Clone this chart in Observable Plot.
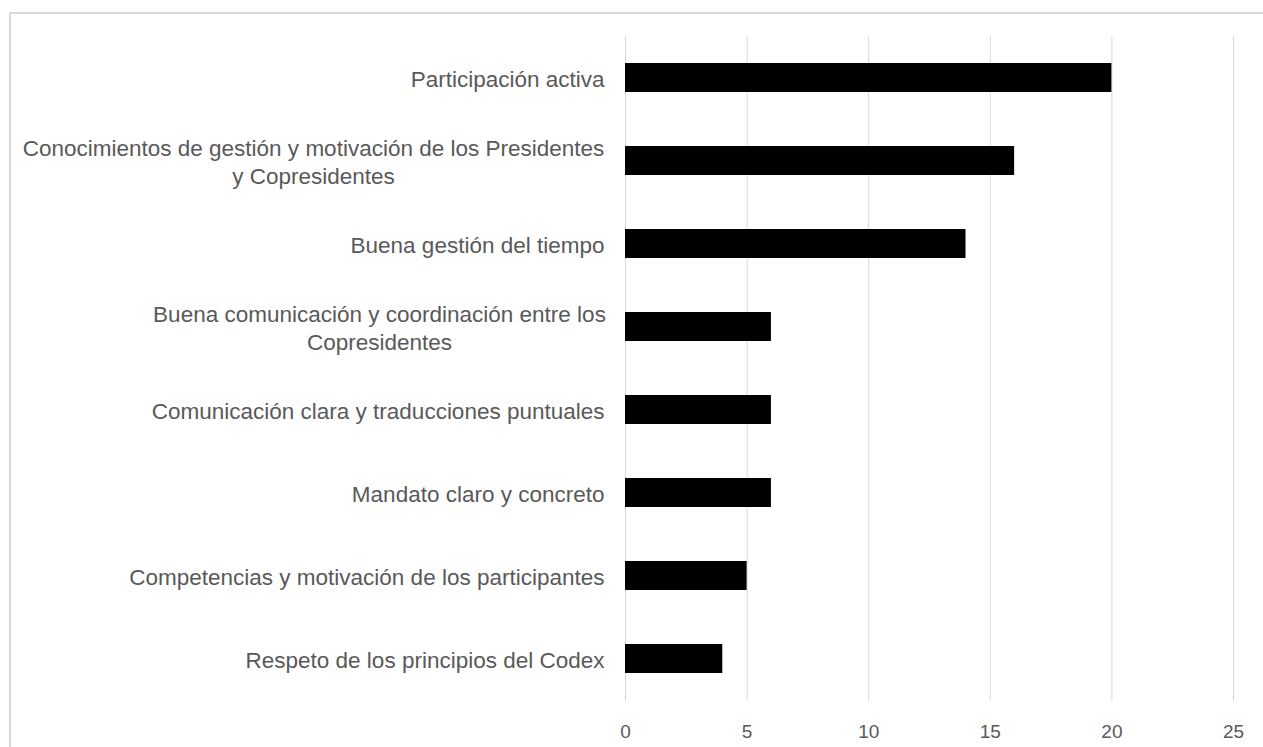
<!DOCTYPE html>
<html>
<head>
<meta charset="utf-8">
<script src="https://cdn.jsdelivr.net/npm/d3@7"></script>
<script src="https://cdn.jsdelivr.net/npm/@observablehq/plot@0.6"></script>
<style>
  html, body { margin: 0; padding: 0; background: #fff; overflow: hidden; }
  #wrap { position: relative; width: 1263px; height: 747px; }
  #frame { position: absolute; left: 9px; top: 12px; width: 1300px; height: 800px;
           border: 2px solid #d9d9d9; box-sizing: border-box; pointer-events: none; }
  #chart { position: absolute; left: 0; top: 0; }
</style>
</head>
<body>
<div id="wrap"><div id="chart"></div><div id="frame"></div></div>
<script>
const categories = [
  "Participación activa",
  "Conocimientos de gestión y motivación de los Presidentes y Copresidentes",
  "Buena gestión del tiempo",
  "Buena comunicación y coordinación entre los Copresidentes",
  "Comunicación clara y traducciones puntuales",
  "Mandato claro y concreto",
  "Competencias y motivación de los participantes",
  "Respeto de los principios del Codex"
];
const values = [20, 16, 14, 6, 6, 6, 5, 4];
const displayLabels = [
  "Participación activa",
  "Conocimientos de gestión y motivación de los Presidentes\ny Copresidentes",
  "Buena gestión del tiempo",
  "Buena comunicación y coordinación entre los\nCopresidentes",
  "Comunicación clara y traducciones puntuales",
  "Mandato claro y concreto",
  "Competencias y motivación de los participantes",
  "Respeto de los principios del Codex"
];
const xTicks = [0, 5, 10, 15, 20, 25];

const data = categories.map((c, i) => ({category: c, value: values[i]}));
const labelOf = new Map(categories.map((c, i) => [c, displayLabels[i]]));
const singleLine = categories.filter(c => !labelOf.get(c).includes("\n"));

const labelStyle = {tickSize: 0, fontSize: 22.5, lineHeight: 1.24, fill: "#595959",
                    tickFormat: d => labelOf.get(d), label: null};

const chart = Plot.plot({
  width: 1263,
  height: 747,
  marginLeft: 625,
  marginRight: 30,
  marginTop: 36,
  marginBottom: 46,
  style: {fontFamily: "'Liberation Sans', Arial, sans-serif", color: "#595959", background: "transparent"},
  x: {domain: [0, 25], ticks: xTicks, label: null},
  y: {domain: categories, paddingInner: 0.65, paddingOuter: 0.325, label: null},
  marks: [
    Plot.gridX(xTicks, {stroke: "#d9d9d9", strokeOpacity: 1, strokeWidth: 1}),
    Plot.barX(data, {x: "value", y: "category", fill: "#000"}),
    Plot.axisX({ticks: xTicks, tickSize: 0, tickPadding: 23, fontSize: 19, fill: "#595959", label: null}),
    Plot.axisY({...labelStyle, ticks: singleLine, tickPadding: 21}),
    Plot.axisY({...labelStyle, ticks: [categories[1]], textAnchor: "middle", tickPadding: 312}),
    Plot.axisY({...labelStyle, ticks: [categories[3]], textAnchor: "middle", tickPadding: 246})
  ]
});
document.getElementById("chart").appendChild(chart);
</script>
</body>
</html>
